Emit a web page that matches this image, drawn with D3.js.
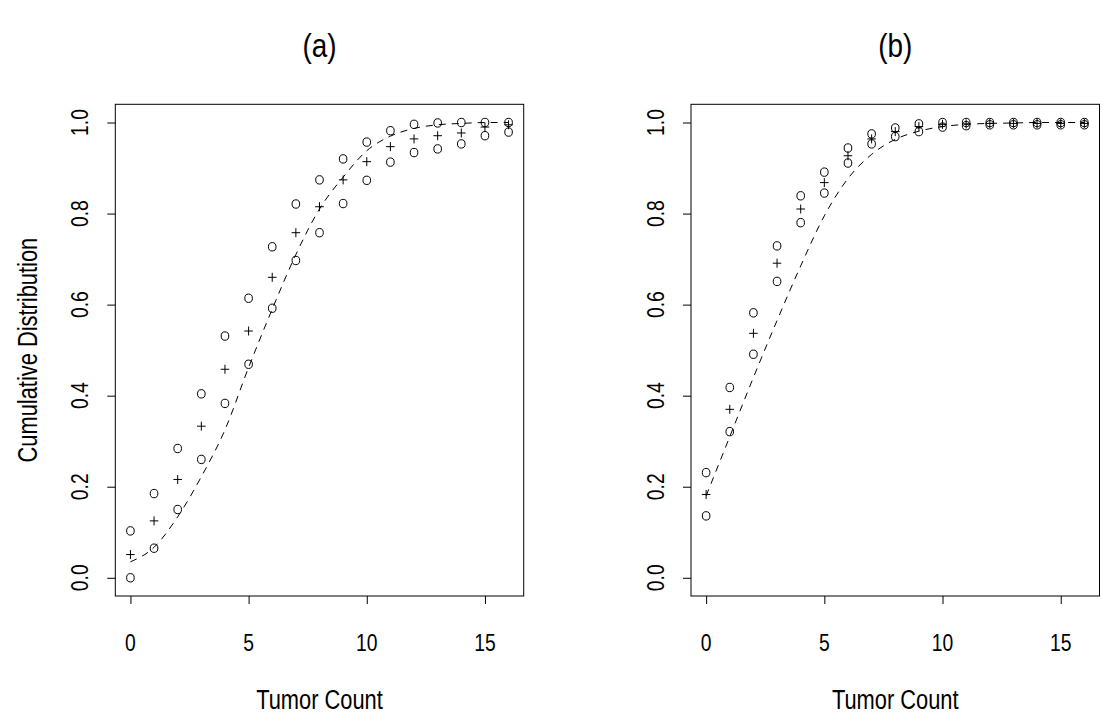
<!DOCTYPE html>
<html>
<head>
<meta charset="utf-8">
<script src="https://cdn.jsdelivr.net/npm/d3@7"></script>
<style>
body { margin: 0; background: #fff; }
text { font-family: "Liberation Sans", Arial, Helvetica, sans-serif; fill: #000; }
</style>
</head>
<body>
<div id="chart"></div>
<script>
var counts = [0, 1, 2, 3, 4, 5, 6, 7, 8, 9, 10, 11, 12, 13, 14, 15, 16];
var xTicks = [0, 5, 10, 15];
var yTicks = [0, 0.2, 0.4, 0.6, 0.8, 1.0];
var panelTitles = ["(a)", "(b)"];

// panel (a)
var aUpper = [0.103, 0.185, 0.284, 0.404, 0.531, 0.614, 0.727, 0.821, 0.874, 0.920, 0.957, 0.982, 0.996, 0.999, 1.0, 1.0, 1.0];
var aMid   = [0.051, 0.125, 0.216, 0.333, 0.458, 0.542, 0.660, 0.758, 0.815, 0.874, 0.914, 0.947, 0.964, 0.971, 0.977, 0.990, 0.995];
var aLower = [0.0, 0.065, 0.150, 0.260, 0.383, 0.469, 0.592, 0.697, 0.758, 0.822, 0.873, 0.913, 0.934, 0.942, 0.953, 0.971, 0.979];
var aFit   = [0.035, 0.067, 0.134, 0.222, 0.325, 0.462, 0.590, 0.710, 0.810, 0.880, 0.938, 0.970, 0.987, 0.995, 0.998, 1.0, 1.0];

// panel (b)
var bUpper = [0.231, 0.418, 0.582, 0.729, 0.839, 0.891, 0.944, 0.975, 0.988, 0.997, 1.0, 1.0, 1.0, 1.0, 1.0, 1.0, 1.0];
var bMid   = [0.183, 0.370, 0.537, 0.691, 0.810, 0.868, 0.927, 0.964, 0.980, 0.991, 0.996, 0.997, 0.998, 0.998, 0.998, 0.998, 0.998];
var bLower = [0.136, 0.321, 0.491, 0.651, 0.780, 0.845, 0.911, 0.953, 0.969, 0.980, 0.990, 0.993, 0.995, 0.995, 0.995, 0.995, 0.995];
var bFit   = [0.180, 0.310, 0.440, 0.565, 0.685, 0.795, 0.877, 0.930, 0.963, 0.981, 0.991, 0.996, 0.998, 0.999, 1.0, 1.0, 1.0];

var width = 1102, height = 719;
var plotTop = 104.3, plotBottom = 596;
var panels = [
    {left: 115.3, right: 523.7, title: panelTitles[0], upper: aUpper, mid: aMid, lower: aLower, fit: aFit, ylab: true},
    {left: 691, right: 1099.5, title: panelTitles[1], upper: bUpper, mid: bMid, lower: bLower, fit: bFit, ylab: false}
];

var svg = d3.select("#chart").append("svg")
    .attr("width", width)
    .attr("height", height)
    .style("display", "block");

var y = d3.scaleLinear().domain([-0.04, 1.04]).range([plotBottom, plotTop]);

/* draws one panel */
function drawPanel(p) {
    var x = d3.scaleLinear().domain([-0.64, 16.64]).range([p.left, p.right]);
    var g = svg.append("g");

    g.append("g")
        .attr("transform", "translate(0," + plotBottom + ")")
        .call(d3.axisBottom(x).tickValues(xTicks).tickSize(8).tickFormat(""))
        .call(function(s) { s.select(".domain").remove(); });

    g.append("g")
        .attr("transform", "translate(" + p.left + ",0)")
        .call(d3.axisLeft(y).tickValues(yTicks).tickSize(8).tickFormat(""))
        .call(function(s) { s.select(".domain").remove(); });

    g.selectAll(".tick line").attr("stroke", "#000");

    g.selectAll(".xlab")
        .data(xTicks)
        .enter()
        .append("text")
        .attr("transform", function(d) { return "translate(" + x(d) + ",643) scale(0.84,1)"; })
        .attr("text-anchor", "middle")
        .attr("dy", "0.35em")
        .style("font-size", "23px")
        .text(function(d) { return d; });

    g.selectAll(".ylab")
        .data(yTicks)
        .enter()
        .append("text")
        .attr("transform", function(d) { return "translate(" + (p.left - 35) + "," + y(d) + ") rotate(-90) scale(0.84,1)"; })
        .attr("text-anchor", "middle")
        .attr("dy", "0.35em")
        .style("font-size", "23px")
        .text(function(d) { return d.toFixed(1); });

    g.append("rect")
        .attr("x", p.left)
        .attr("y", plotTop)
        .attr("width", p.right - p.left)
        .attr("height", plotBottom - plotTop)
        .attr("fill", "none")
        .attr("stroke", "#000")
        .attr("stroke-width", 1);

    var line = d3.line()
        .x(function(d, i) { return x(counts[i]); })
        .y(function(d) { return y(d); })
        .curve(d3.curveMonotoneX);

    g.append("path")
        .datum(p.fit)
        .attr("d", line)
        .attr("fill", "none")
        .attr("stroke", "#000")
        .attr("stroke-width", 1)
        .attr("stroke-dasharray", "7,6");

    [p.upper, p.lower].forEach(function(vals) {
        g.selectAll(null)
            .data(vals)
            .enter()
            .append("ellipse")
            .attr("cx", function(d, i) { return x(counts[i]); })
            .attr("cy", function(d) { return y(d); })
            .attr("rx", 3.8)
            .attr("ry", 4.2)
            .attr("fill", "none")
            .attr("stroke", "#000")
            .attr("stroke-width", 1);
    });

    g.selectAll(null)
        .data(p.mid)
        .enter()
        .append("path")
        .attr("d", function(d, i) {
            var cx = x(counts[i]), cy = y(d);
            return "M" + (cx - 4.3) + "," + cy + "H" + (cx + 4.3) +
                   "M" + cx + "," + (cy - 4.5) + "V" + (cy + 4.5);
        })
        .attr("fill", "none")
        .attr("stroke", "#000")
        .attr("stroke-width", 1);

    g.append("text")
        .attr("transform", "translate(" + ((p.left + p.right) / 2) + ",45) scale(0.82,1)")
        .attr("text-anchor", "middle")
        .attr("dy", "0.35em")
        .style("font-size", "34px")
        .text(p.title);

    g.append("text")
        .attr("transform", "translate(" + ((p.left + p.right) / 2) + ",700) scale(0.81,1)")
        .attr("text-anchor", "middle")
        .attr("dy", "0.35em")
        .style("font-size", "27px")
        .text("Tumor Count");

    if (p.ylab) {
        g.append("text")
            .attr("transform", "translate(28," + ((plotTop + plotBottom) / 2) + ") rotate(-90) scale(0.81,1)")
            .attr("text-anchor", "middle")
            .attr("dy", "0.35em")
            .style("font-size", "27px")
            .text("Cumulative Distribution");
    }
}

panels.forEach(drawPanel);
</script>
</body>
</html>
